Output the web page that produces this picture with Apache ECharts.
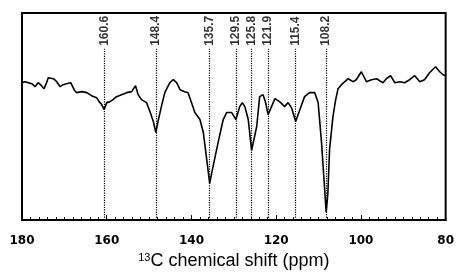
<!DOCTYPE html>
<html>
<head>
<meta charset="utf-8">
<title>13C chemical shift</title>
<style>
  html, body {margin:0; padding:0; background:#fff;}
  #chart {width:457px; height:275px;}
</style>
<script src="https://cdn.jsdelivr.net/npm/echarts@6/dist/echarts.min.js"></script>
</head>
<body>
<div id="chart"></div>
<script>
// spectrum (ppm, arbitrary intensity)
var shift = [180.0,179.3,178.5,177.7,176.9,176.2,175.4,174.8,174.2,173.8,172.6,171.8,171.0,170.3,169.5,168.5,167.7,167.1,165.9,164.7,163.6,162.4,161.8,161.2,160.6,160.0,159.2,158.5,157.7,156.5,155.3,154.1,153.2,152.6,151.8,150.6,149.8,149.0,148.4,147.9,147.1,146.3,145.1,144.3,143.5,142.7,141.6,140.8,140.0,139.2,138.0,137.2,136.4,135.7,134.9,133.7,132.5,131.7,130.5,129.5,128.6,128.0,127.4,126.6,125.8,124.6,123.9,123.1,122.5,121.9,121.1,120.3,119.2,118.0,117.2,116.4,115.4,114.4,113.3,112.1,110.9,110.1,109.3,108.7,108.2,107.8,107.4,106.6,106.0,105.4,104.6,104.2,103.0,101.9,101.1,99.9,98.7,97.5,96.3,95.6,94.8,94.0,93.0,92.0,90.8,89.7,88.5,87.3,86.1,85.0,83.8,82.4,81.4,80.6,80.0];
var intensity = [138,139,138,137,134,138,135,132,138,143,142,139,134,136,137,138,131,128,129,128,125,123,119,116,111,118,119,121,124,126,128,129,135,126,121,118,109,99,88,99,114,128,138,141,138,131,129,128,118,108,101,88,61,37,54,78,101,108,108,101,114,118,114,101,70,94,124,126,118,106,114,122,119,114,118,113,99,111,124,128,128,118,78,40,8,27,71,104,120,132,136,138,142,139,141,149,139,141,142,140,138,142,145,138,139,138,141,145,139,141,148,154,149,146,145];
var peaks = [160.6, 148.4, 135.7, 129.5, 125.8, 121.9, 115.4, 108.2];

var lineTop = 172;   // where the dotted guides stop
var labelBase = 175; // bottom of the rotated peak labels

var chart = echarts.init(document.getElementById('chart'));

var guides = peaks.map(function (p) {
    return [{coord: [p, 0]}, {coord: [p, lineTop]}];
});

var option = {
    backgroundColor: '#fff',
    animation: false,
    grid: {
        left: 22, right: 11, top: 13, bottom: 54,
        show: true, borderColor: '#000', borderWidth: 2
    },
    xAxis: {
        type: 'value',
        min: 80, max: 180, interval: 20,
        inverse: true,
        splitLine: {show: false},
        axisLine: {lineStyle: {color: '#000', width: 2}},
        axisTick: {inside: true, length: 5, lineStyle: {color: '#000', width: 1}},
        minorTick: {show: true, splitNumber: 10, length: 3, lineStyle: {color: '#000', width: 1}},
        axisLabel: {
            color: '#000', fontFamily: 'DejaVu Sans', fontWeight: 'bold',
            fontSize: 12, margin: 15
        },
        name: '{sup|13}C chemical shift (ppm)',
        nameLocation: 'middle',
        nameGap: 31,
        nameTextStyle: {
            color: '#000', fontFamily: 'Liberation Sans', fontSize: 18,
            rich: {
                sup: {fontSize: 11, fontFamily: 'Liberation Sans', color: '#000', verticalAlign: 'top', padding: [0, 0, 6, 0]}
            }
        }
    },
    yAxis: {
        type: 'value', min: 0, max: 208,
        show: false
    },
    series: [
        {
            type: 'line',
            data: shift.map(function (s, i) { return [s, intensity[i]]; }),
            showSymbol: false,
            lineStyle: {color: '#000', width: 1.6},
            markLine: {
                silent: true,
                symbol: 'none',
                label: {show: false},
                lineStyle: {color: '#000', type: 'dotted', width: 1.2},
                data: guides
            }
        },
        {
            type: 'scatter',
            symbolSize: 0,
            data: peaks.map(function (p) { return [p, labelBase]; }),
            label: {
                show: true,
                position: 'inside',
                rotate: 90,
                align: 'left',
                verticalAlign: 'middle',
                formatter: function (d) { return d.value[0].toFixed(1); },
                color: '#000',
                fontFamily: 'Liberation Sans',
                fontWeight: 'bold',
                fontSize: 12
            }
        }
    ]
};

chart.setOption(option);
</script>
</body>
</html>
